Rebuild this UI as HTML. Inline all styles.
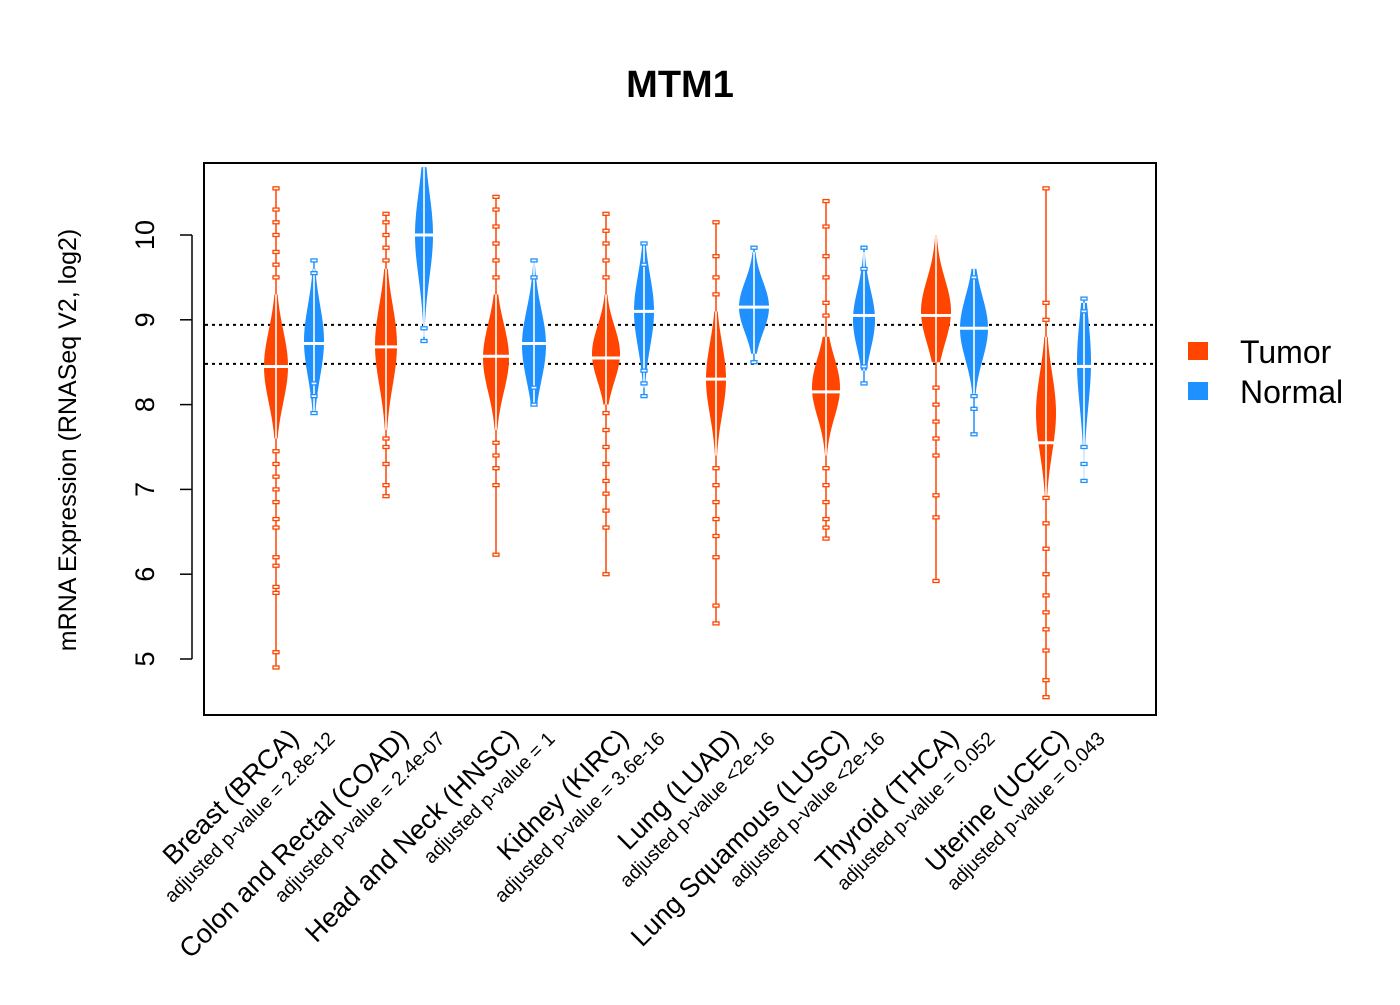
<!DOCTYPE html>
<html><head><meta charset="utf-8"><style>
html,body{margin:0;padding:0;background:#fff;}
svg text{font-family:"Liberation Sans",Arial,sans-serif;}
</style></head><body>
<svg id="chart" width="1400" height="1000" viewBox="0 0 1400 1000" xmlns="http://www.w3.org/2000/svg">
<text x="680" y="97" text-anchor="middle" font-size="38" font-weight="bold">MTM1</text>
<rect x="204" y="163" width="952" height="552" fill="none" stroke="#000" stroke-width="2"/>
<text transform="translate(76,440) rotate(-90)" text-anchor="middle" font-size="25">mRNA Expression (RNASeq V2, log2)</text>
<g id="yaxis"></g>
<g id="refs"></g>
<g id="beans"></g>
<g id="xlabels"></g>
<g>
<rect x="1188" y="342" width="20" height="18" fill="#FF4500"/>
<text x="1240" y="363" font-size="32">Tumor</text>
<rect x="1188" y="382" width="20" height="18" fill="#1E90FF"/>
<text x="1240" y="403" font-size="32">Normal</text>
</g>
</svg>
<script>
const categories=["Breast (BRCA)","Colon and Rectal (COAD)","Head and Neck (HNSC)","Kidney (KIRC)","Lung (LUAD)","Lung Squamous (LUSC)","Thyroid (THCA)","Uterine (UCEC)"];
const pvalues=["adjusted p-value = 2.8e-12","adjusted p-value = 2.4e-07","adjusted p-value = 1","adjusted p-value = 3.6e-16","adjusted p-value <2e-16","adjusted p-value <2e-16","adjusted p-value = 0.052","adjusted p-value = 0.043"];
const yTicks=[5,6,7,8,9,10];
const refValues=[8.94,8.48];
const tumorLo=[7.6,7.7,7.7,8.0,7.4,7.4,8.5,6.9];
const tumorHi=[9.3,9.6,9.3,9.3,9.1,8.8,10.0,8.8];
const tumorCenter=[8.45,8.7,8.55,8.6,8.3,8.2,9.1,7.9];
const tumorMedian=[8.45,8.68,8.57,8.55,8.3,8.15,9.05,7.55];
const tumorWidth=[12,11,13,14,10,14,15,10];
const normalLo=[7.9,8.8,8.0,8.2,8.6,8.4,8.1,7.1];
const normalHi=[9.6,10.8,9.7,9.9,9.8,9.8,9.6,9.2];
const normalCenter=[8.75,10.0,8.7,9.1,9.15,9.0,8.9,8.5];
const normalMedian=[8.72,10.0,8.72,9.1,9.15,9.05,8.9,8.45];
const normalWidth=[10,9,12,10,15,11,14,7];
const tumorOutliers=[
[4.9,5.08,5.78,5.85,6.1,6.2,6.55,6.65,6.85,7.0,7.15,7.3,7.45,9.5,9.65,9.8,10.0,10.15,10.3,10.55],
[6.92,7.05,7.3,7.5,7.6,9.7,9.85,10.0,10.15,10.25],
[6.23,7.05,7.25,7.4,7.55,9.5,9.7,9.9,10.1,10.3,10.45],
[6.0,6.55,6.75,6.95,7.1,7.3,7.5,7.7,7.9,9.5,9.7,9.9,10.05,10.25],
[5.42,5.63,6.2,6.45,6.65,6.85,7.05,7.25,9.3,9.5,9.75,10.15],
[6.42,6.55,6.65,6.85,7.05,7.25,9.05,9.2,9.5,9.75,10.1,10.4],
[5.92,6.67,6.93,7.4,7.6,7.8,8.0,8.2],
[4.55,4.75,5.1,5.35,5.55,5.75,6.0,6.3,6.6,6.9,9.0,9.2,10.55]];
const normalOutliers=[[7.9,8.1,8.25,9.55,9.7],[8.75,8.9],[8.0,8.2,9.5,9.7],[8.1,8.25,8.4,9.65,9.9],[8.5,9.85],[8.25,8.45,9.6,9.85],[7.65,7.95,8.1,9.5],[7.1,7.3,7.5,9.1,9.25]];

const NS="http://www.w3.org/2000/svg";
const yScale=v=>659-(v-5)*84.8;
const groupX=i=>276+110*i;
function mk(tag,attrs,parent){const e=document.createElementNS(NS,tag);for(const k in attrs)e.setAttribute(k,attrs[k]);parent.appendChild(e);return e;}
const yaxis=document.getElementById('yaxis');
mk('line',{x1:192,x2:192,y1:yScale(5),y2:yScale(10),stroke:'#000','stroke-width':1.5},yaxis);
yTicks.forEach(t=>{
  const y=yScale(t);
  const l=mk('line',{x1:180,x2:192,y1:y,y2:y,stroke:'#000','stroke-width':1.5},yaxis);
  
  
  const tx=mk('text',{transform:`translate(154,${y}) rotate(-90)`,'text-anchor':'middle','font-size':27},yaxis);
  tx.textContent=t;
  
  
});
const refs=document.getElementById('refs');
refValues.forEach(v=>{
  const l=mk('line',{x1:205,x2:1155,y1:yScale(v),y2:yScale(v),stroke:'#000','stroke-width':2,'stroke-dasharray':'3,4'},refs);
  
  
});
const beans=document.getElementById('beans');
function drawBean(cx,lo,hi,c,med,w,outs,col,name){
  const g=mk('g',{},beans);
  
  
  if(outs.length){
    const mn=Math.min(...outs,lo),mx=Math.max(...outs,hi);
    mk('line',{x1:cx,x2:cx,y1:yScale(mn),y2:yScale(mx),stroke:col,'stroke-width':1.5},g);
  }
  const s=(hi-lo)/4,N=40,left=[],right=[];
  for(let k=0;k<=N;k++){const v=lo+(hi-lo)*k/N;const d=w*Math.exp(-0.5*((v-c)/s)**2);right.push(`${cx+d},${yScale(v)}`);left.unshift(`${cx-d},${yScale(v)}`);}
  mk('polygon',{points:right.concat(left).join(' '),fill:col},g);
  mk('line',{x1:cx,x2:cx,y1:yScale(lo),y2:yScale(hi),stroke:'#fff','stroke-width':2,opacity:0.8},g);
  mk('line',{x1:cx-w,x2:cx+w,y1:yScale(med),y2:yScale(med),stroke:'#fff','stroke-width':3},g);
  outs.forEach(v=>{
    const r=mk('rect',{x:cx-3,y:yScale(v)-1.5,width:6,height:3,fill:'#fff',stroke:col,'stroke-width':1.3},g);
    
    
  });
}
categories.forEach((c,i)=>{
  const x=groupX(i);
  drawBean(x,tumorLo[i],tumorHi[i],tumorCenter[i],tumorMedian[i],tumorWidth[i],tumorOutliers[i],'#FF4500','bean-tumor');
  drawBean(x+38,normalLo[i],normalHi[i],normalCenter[i],normalMedian[i],normalWidth[i],normalOutliers[i],'#1E90FF','bean-normal');
});
const xl=document.getElementById('xlabels');
categories.forEach((c,i)=>{
  const x=groupX(i);
  const t=mk('text',{transform:`translate(${x+24},${740}) rotate(-45)`,'text-anchor':'end','font-size':27},xl);
  t.textContent=c;
  
  
  const p=mk('text',{transform:`translate(${x+60},${740}) rotate(-45)`,'text-anchor':'end','font-size':19.5},xl);
  p.textContent=pvalues[i];
  
  
});
</script>
</body></html>
